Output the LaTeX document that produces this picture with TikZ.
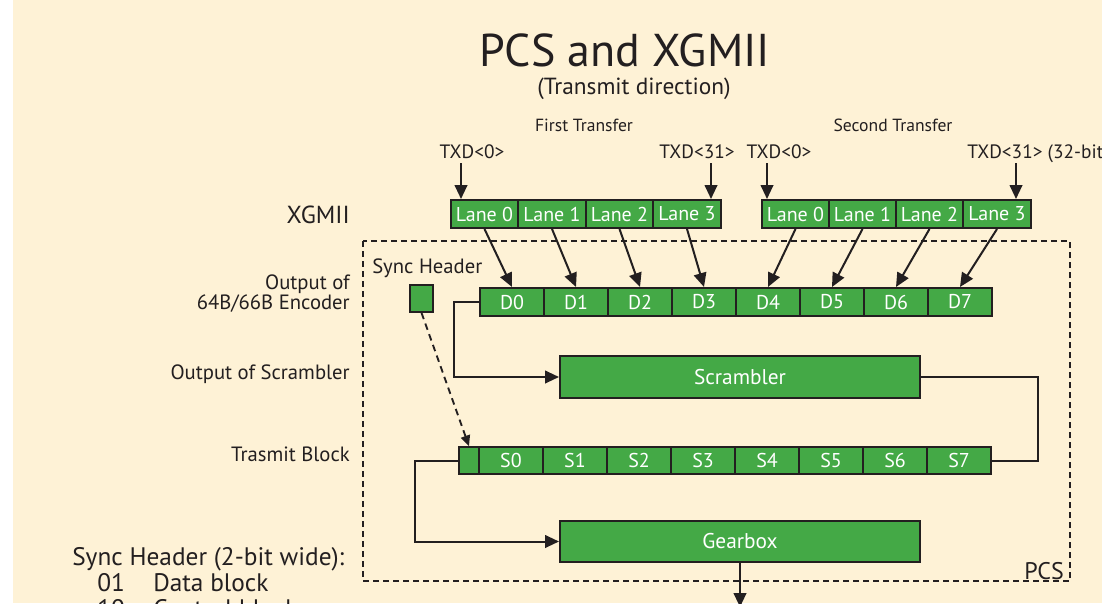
\documentclass[tikz,border=0pt]{standalone}
\usepackage{fontspec}
\setmainfont{PT Sans}
\usetikzlibrary{arrows.meta,calc}
\definecolor{cream}{RGB}{254,242,214}
\definecolor{cellgreen}{RGB}{68,169,70}
\definecolor{ink}{RGB}{35,31,32}
\tikzset{
  cell/.style={draw=ink,line width=1.5pt,fill=cellgreen,text=white,inner sep=0pt,minimum height=21pt,font=\fontsize{15}{16}\selectfont},
  lanecell/.style={cell,minimum width=50.5pt},
  dcell/.style={cell,minimum width=48pt,font=\fontsize{15}{16}\selectfont},
  bigbox/.style={cell,minimum width=270pt,minimum height=31pt,font=\fontsize{16}{18}\selectfont},
  lbl/.style={text=ink,inner sep=0pt,font=\fontsize{15.5}{17}\selectfont},
  arr/.style={draw=ink,line width=1.5pt,-{Triangle[length=10.5pt,width=9.5pt]}},
  conn/.style={draw=ink,line width=1.5pt},
  dasharr/.style={draw=ink,line width=1.4pt,dash pattern=on 5pt off 3.5pt,-{Triangle[length=8pt,width=7pt]}},
  pcsbox/.style={draw=ink,line width=1.8pt,dash pattern=on 4.5pt off 3pt}
}
\begin{document}
\begin{tikzpicture}[x=0.75pt,y=-0.75pt]
\useasboundingbox (0,0) rectangle (1102,603);
\clip (0,0) rectangle (1102,603);
\fill[white] (0,0) rectangle (13,603);
\fill[cream] (13,0) rectangle (1102,603);

% titles
\node[lbl,anchor=base,text depth=0pt,font=\fontsize{34.5}{38}\selectfont] (title) at (625,66) {PCS and XGMII};
\node[lbl,anchor=base,font=\fontsize{17.5}{20}\selectfont] (sub) at (634,94) {(Transmit direction)};
\node[lbl,anchor=base,font=\fontsize{13.2}{15}\selectfont] (ft) at (584,131) {First Transfer};
\node[lbl,anchor=base,font=\fontsize{13.2}{15}\selectfont] (st) at (893,131) {Second Transfer};
\node[lbl,anchor=base,font=\fontsize{14.5}{16}\selectfont] (tx1) at (472,158) {TXD<0>};
\node[lbl,anchor=base,font=\fontsize{14.5}{16}\selectfont] (tx2) at (697,158) {TXD<31>};
\node[lbl,anchor=base,font=\fontsize{14.5}{16}\selectfont] (tx3) at (779,158) {TXD<0>};
\node[lbl,anchor=base west,font=\fontsize{14.5}{16}\selectfont] (tx4) at (967,158) {TXD<31> (32-bit wide)};

% left labels
\node[lbl,anchor=base east,font=\fontsize{18.5}{20}\selectfont] (xg) at (350,223) {XGMII};
\node[lbl,anchor=base east] (o1) at (350,289) {Output of};
\node[lbl,anchor=base east] (o2) at (350,309) {64B/66B Encoder};
\node[lbl,anchor=base east] (o3) at (350,379) {Output of Scrambler};
\node[lbl,anchor=base east] (o4) at (350,461) {Trasmit Block};
\node[lbl,anchor=base west] (shl) at (372,273) {Sync Header};

% lanes
\foreach \n/\x in {0/484.5,1/552,2/619.5,3/687}
  \node[lanecell] (a\n) at (\x,214) {Lane \n};
\foreach \n/\x in {0/795.5,1/862.5,2/929.5,3/997}
  \node[lanecell] (b\n) at (\x,214) {Lane \n};

% TXD arrows
\coordinate (p1) at (461,163);
\coordinate (p2) at (711,163);
\coordinate (p3) at (767,163);
\coordinate (p4) at (1016,163);
\draw[arr] (p1) -- (p1 |- a0.north);
\draw[arr] (p2) -- (p2 |- a3.north);
\draw[arr] (p3) -- (p3 |- b0.north);
\draw[arr] (p4) -- (p4 |- b3.north);

% PCS box
\draw[pcsbox] (363,241) rectangle (1070,581);
\node[lbl,anchor=base east,font=\fontsize{18}{20}\selectfont] (pcs) at (1064,579) {PCS};

% D cells
\foreach \n in {0,...,7}
  \node[dcell] (d\n) at ({512+64*\n},302) {D\n};
\node[cell,minimum width=17pt,minimum height=20pt] (sync) at (421.5,298.5) {};

\foreach \n in {0,...,3}
  \draw[arr] (a\n.south) -- (d\n.north);
\draw[arr] (b0.south) -- (d4.north);
\draw[arr] (b1.south) -- (d5.north);
\draw[arr] (b2.south) -- (d6.north);
\draw[arr] (b3.south) -- (d7.north);

% scrambler
\node[bigbox] (scr) at (740,377) {Scrambler};
\draw[arr] (d0.west) -- ++(-25,0) |- (scr.west);

% transmit block
\node[cell,minimum width=15pt,minimum height=20pt] (sh) at (469,460.5) {};
\foreach \n in {0,...,7}
  \node[dcell,minimum height=20pt] (s\n) at ({511+64*\n},460.5) {S\n};
\draw[conn] (scr.east) -- ++(117,0) |- (s7.east);
\draw[dasharr] (sync.south) -- (sh.north);

% gearbox
\node[bigbox] (gear) at (740,541.5) {Gearbox};
\draw[arr] (sh.west) -- ++(-43,0) |- (gear.west);
\coordinate (out) at (740,607);
\draw[arr] (gear.south) -- (out);

% legend
\node[lbl,anchor=base west,font=\fontsize{19}{21}\selectfont] (lg) at (72,565) {Sync Header (2-bit wide):};
\node[lbl,anchor=base west,font=\fontsize{19}{21}\selectfont] (l01) at (97,591) {01};
\node[lbl,anchor=base west,font=\fontsize{19}{21}\selectfont] (l01t) at (153,591) {Data block};
\node[lbl,anchor=base west,font=\fontsize{19}{21}\selectfont] (l10) at (97,617) {10};
\node[lbl,anchor=base west,font=\fontsize{19}{21}\selectfont] (l10t) at (153,617) {Control block};
\end{tikzpicture}
\end{document}
